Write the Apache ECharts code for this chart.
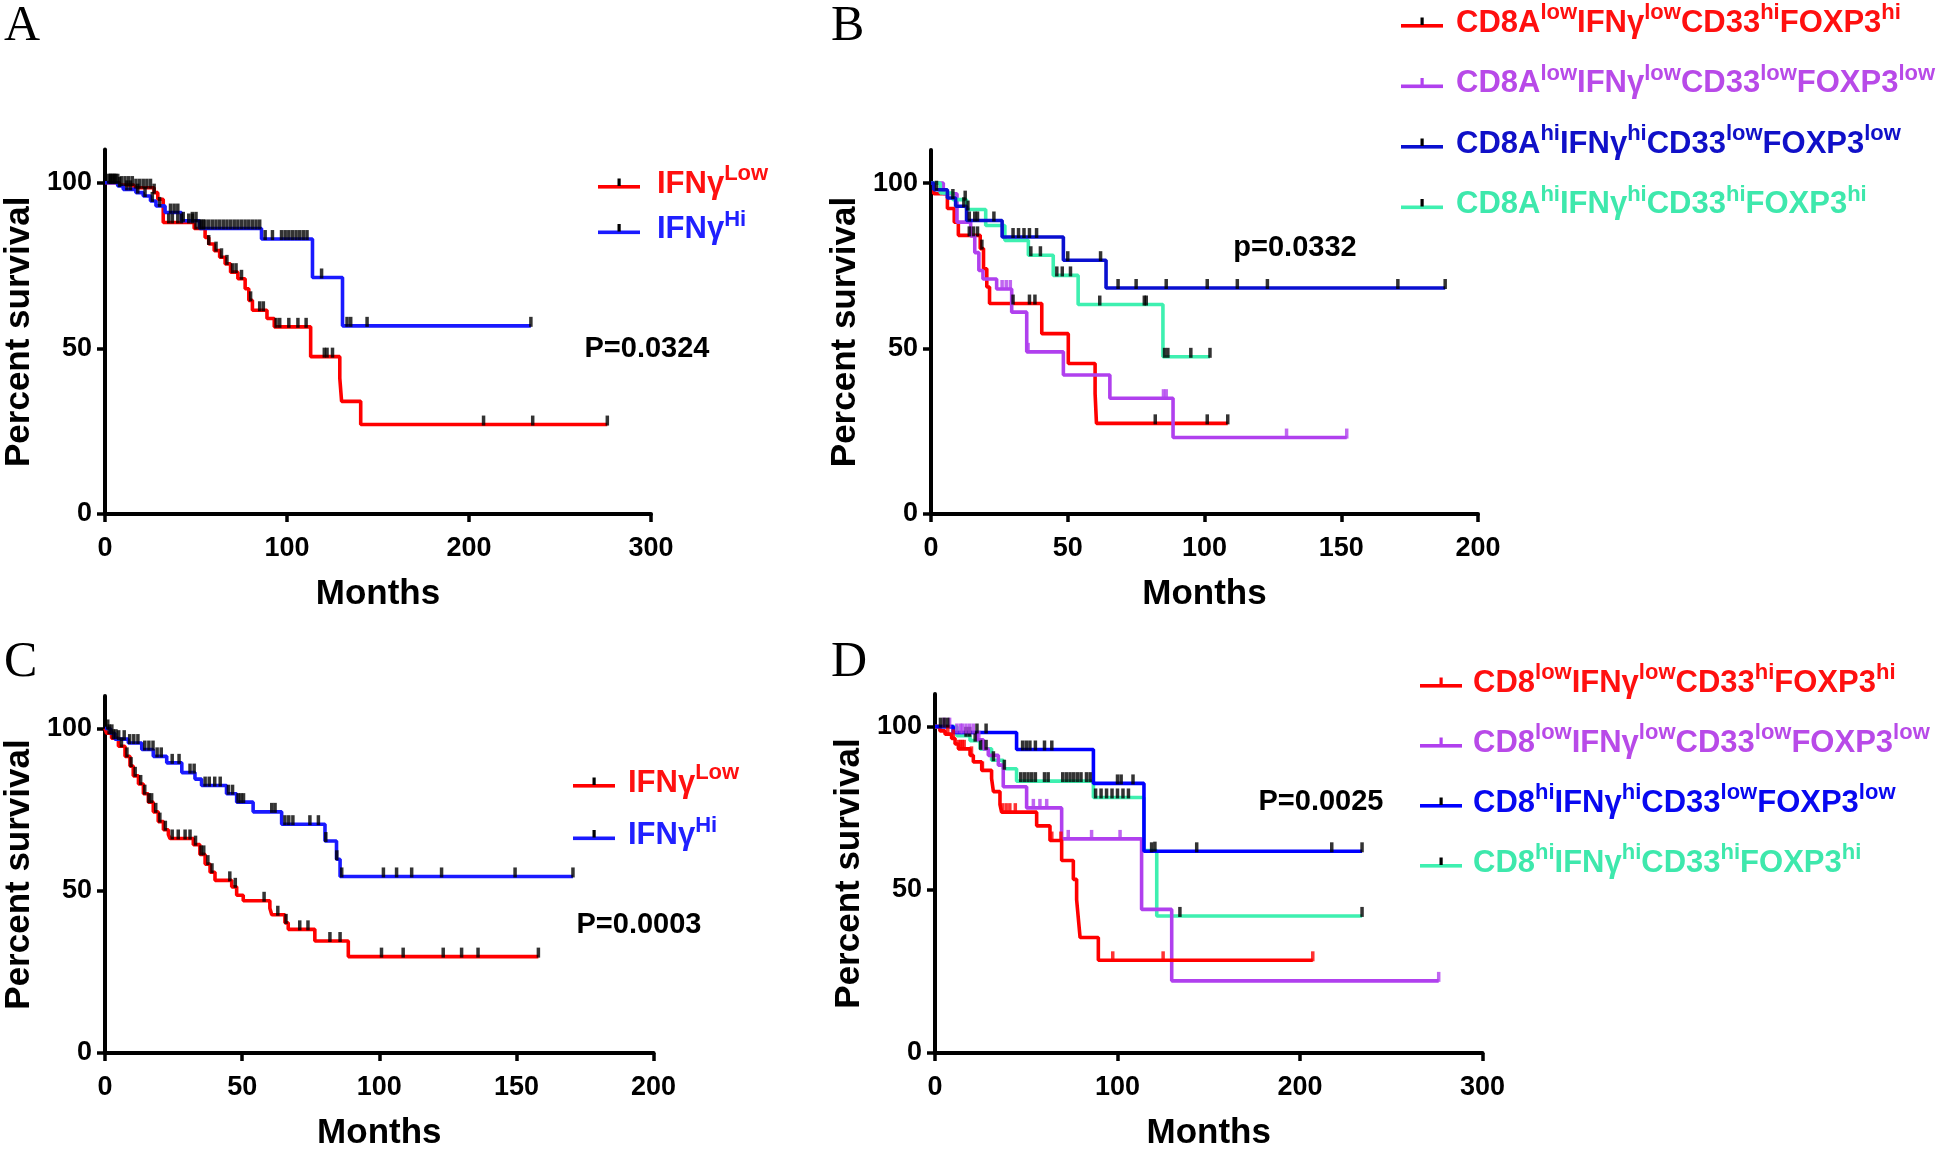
<!DOCTYPE html>
<html><head><meta charset="utf-8">
<script src="https://cdn.jsdelivr.net/npm/echarts@6/dist/echarts.min.js"></script>
<style>html,body{margin:0;padding:0;background:#fff}#c{width:1946px;height:1152px}</style>
</head><body><div id="c"></div>
<script>
// ---------- DATA (months, percent survival) ----------
// Panel A
const aLowT = [0, 8, 16, 27, 29, 32, 49, 55, 57, 60, 63, 66, 69, 73, 77, 79, 81, 89, 93, 113, 129, 130, 140.5];
const aLowS = [100, 99.3, 98.5, 97, 95, 88, 86.2, 83.5, 81.5, 79.5, 77.5, 75.5, 73, 71, 68, 64.5, 61.5, 59, 56.5, 47.5, 41, 34, 27];
const aLowEnd = 276;
const aLowCens = [2, 3, 4, 5, 6, 7, 9, 11, 13, 15, 17, 19, 21, 23, 25, 27, 35, 37, 40, 42, 46, 48, 50, 52, 54, 57, 61, 64, 67, 70, 72, 75, 80, 85, 87, 94, 96, 101, 106, 110.5, 120.5, 122, 125, 208, 235, 276];
const aHiT = [0, 7, 10, 17, 21, 25, 28, 33, 42, 52, 86, 114, 130.5];
const aHiS = [100, 99, 98, 97, 96, 94.5, 93, 91, 88.5, 86.2, 83, 71.4, 56.8];
const aHiEnd = 234;
const aHiCens = [3, 5, 8, 12, 14, 18, 22, 26, 30, 36, 38, 40, 43, 48, 50, 53, 55, 57, 59, 61, 63, 65, 67, 69, 71, 73, 75, 77, 79, 81, 83, 85, 88, 92, 97, 99, 101, 103, 105, 107, 109, 111, 119, 133, 135, 144, 234];

// Panel B
const bRedT = [0, 1, 6, 8.5, 10, 18, 19.2, 20.4, 21.4, 40.5, 50.2, 60, 60.5];
const bRedS = [100, 96.8, 92.3, 88.2, 84.2, 80.2, 74.1, 68.6, 63.6, 54.5, 45.5, 36.4, 27.4];
const bRedEnd = 108.5;
const bRedCens = [14, 15.5, 17, 18.6, 30, 36, 38, 82, 101, 108.5];
const bPurT = [0, 4.5, 9.5, 14.5, 16, 17.5, 19, 24, 29.5, 35, 48.4, 65.4, 88.5];
const bPurS = [100, 96.8, 88.2, 84, 79, 73.6, 71, 68, 61, 49, 42, 35, 23.1];
const bPurEnd = 152;
const bPurCens = [26, 27.5, 29, 35.5, 85, 86, 130, 152];
const bBluT = [0, 1, 6, 9, 13, 26, 48.4, 64];
const bBluS = [100, 98, 95.5, 93, 88.7, 83.7, 76.7, 68.3];
const bBluEnd = 188;
const bBluCens = [2, 8, 12, 14, 16, 17, 23, 30, 32, 34, 36, 38.6, 50, 62, 68.4, 75, 86, 101, 112, 123, 170.7, 188];
const bTeaT = [0, 3.4, 8, 13, 20, 27, 35.6, 44.7, 53.8, 84.8];
const bTeaS = [100, 97, 95, 92, 87.2, 82.7, 78.2, 72.1, 63.3, 47.5];
const bTeaEnd = 102;
const bTeaCens = [12.5, 13.5, 36.5, 40, 46, 48, 51, 61.7, 78, 78.7, 85.4, 86.6, 95, 102];

// Panel C
const cLowT = [0, 0.6, 2.4, 4.9, 7.3, 9.1, 10.3, 12.2, 14, 15.8, 17.6, 19.4, 21.3, 23.1, 23.7, 32.2, 34.6, 36.5, 38.3, 40.1, 46.2, 48, 50.4, 60.1, 60.8, 65.6, 66.8, 76.5, 88.7];
const cLowS = [100, 98.5, 97, 94.5, 91.4, 88.4, 85.4, 82.9, 79.9, 77.3, 74.3, 71.3, 68.8, 67.3, 66.1, 64.2, 61.2, 58.2, 55.7, 53.2, 51.2, 48.6, 46.9, 44.6, 42.6, 40.1, 38.1, 34.5, 29.7];
const cLowEnd = 158;
const cLowCens = [1.5, 3, 4, 6, 8, 9.5, 11, 13, 14.5, 16, 17, 18.5, 20, 22, 24.5, 26.7, 29.2, 31, 33, 35, 36, 37.5, 39, 45.5, 47.5, 58, 63, 66, 71, 74, 82, 85.7, 100.8, 108.7, 123.3, 130, 136, 158];
const cHiT = [0, 2, 3.6, 8.5, 13.4, 17.6, 22.5, 28, 32.8, 35.2, 44.3, 48, 54, 64.4, 80.2, 84.4, 85.7];
const cHiS = [100, 98.5, 96.7, 95.5, 93.5, 91.4, 89.4, 86.4, 84.4, 82.4, 79.9, 77.3, 74.3, 70.5, 65.3, 59.7, 54.4];
const cHiEnd = 170.6;
const cHiCens = [1, 2.5, 5, 7, 9, 10.5, 12, 14.5, 16, 17.5, 19, 20.5, 24.5, 27, 31, 32.5, 36.5, 38, 40, 42, 45, 46.5, 48.5, 49.5, 50.5, 60.8, 62, 65.6, 67, 68.5, 74.7, 77.8, 80.5, 84.5, 86.3, 101.5, 106.3, 111.8, 122.7, 149.5, 170.6];

// Panel D
const dRedT = [0, 2.7, 5.5, 9.1, 11, 12.8, 19.2, 21, 25.6, 31, 32, 35.6, 36.5, 55.7, 63, 69.4, 75.8, 77.6, 78.5, 79.5, 89.5];
const dRedS = [100, 98.7, 97.7, 96.4, 94.7, 93.2, 91.2, 89.2, 86.6, 84.1, 80.1, 76.1, 73.8, 69.6, 65.1, 59, 53.2, 47, 41.5, 35.4, 28.4];
const dRedEnd = 207;
const dRedCens = [7, 10, 13, 14, 15, 16, 20, 26, 37, 39, 41, 44, 64, 69, 97.4, 125, 207];
const dPurT = [0, 10, 23, 26.5, 29.2, 34.7, 37.4, 50.2, 69.4, 113.2, 129.7];
const dPurS = [100, 98.2, 96, 93.2, 91.2, 88.2, 81.6, 75.1, 65.6, 44, 22.1];
const dPurEnd = 276;
const dPurCens = [5, 8, 12, 14, 15, 17, 19, 21, 24, 53.9, 57.5, 61.2, 73, 85.8, 101.4, 276];
const dBluT = [0, 10, 44.7, 86.8, 114.5];
const dBluS = [100, 98.2, 93, 82.6, 61.8];
const dBluEnd = 234;
const dBluCens = [3, 5, 7, 23, 28, 48, 50, 52, 55, 60, 64, 100, 102, 108.5, 118.7, 143.4, 217.4, 234];
const dTeaT = [0, 12, 19.2, 24.7, 31, 37.4, 44.7, 86.8, 114.5, 121.5];
const dTeaS = [100, 97.2, 95.7, 93.2, 89.7, 87.1, 83.3, 78.3, 62, 42];
const dTeaEnd = 234;
const dTeaCens = [17, 19, 22, 25, 28, 32, 38, 47, 49, 51, 53, 55, 60, 62, 70, 72, 74, 76, 78, 80, 83, 85, 88, 91, 94, 97, 100, 103, 106, 120.5, 134.2, 234];

// Axis ticks / labels
const xMaxA = 300, xIntA = 100;
const xMaxB = 200, xIntB = 50;
const xMaxC = 200, xIntC = 50;
const xMaxD = 300, xIntD = 100;
const yMax = 110, yInt = 50;
const pA = 'P=0.0324', pB = 'p=0.0332', pC = 'P=0.0003', pD = 'P=0.0025';
const panelLetters = ['A', 'B', 'C', 'D'];
const xTitle = 'Months', yTitle = 'Percent survival';

// Legend label parts [main, superscript]
const labA = [[['IFNγ', 'Low']], [['IFNγ', 'Hi']]];
const labB = [
  [['CD8A', 'low'], ['IFNγ', 'low'], ['CD33', 'hi'], ['FOXP3', 'hi']],
  [['CD8A', 'low'], ['IFNγ', 'low'], ['CD33', 'low'], ['FOXP3', 'low']],
  [['CD8A', 'hi'], ['IFNγ', 'hi'], ['CD33', 'low'], ['FOXP3', 'low']],
  [['CD8A', 'hi'], ['IFNγ', 'hi'], ['CD33', 'hi'], ['FOXP3', 'hi']]
];
const labD = [
  [['CD8', 'low'], ['IFNγ', 'low'], ['CD33', 'hi'], ['FOXP3', 'hi']],
  [['CD8', 'low'], ['IFNγ', 'low'], ['CD33', 'low'], ['FOXP3', 'low']],
  [['CD8', 'hi'], ['IFNγ', 'hi'], ['CD33', 'low'], ['FOXP3', 'low']],
  [['CD8', 'hi'], ['IFNγ', 'hi'], ['CD33', 'hi'], ['FOXP3', 'hi']]
];

// ---------- STYLE ----------
const FONT = "'Liberation Sans', Arial, sans-serif";
const COL = {
  red: '#ff0000', blue: '#1a1aff', navy: '#0a10d0', blued: '#0000ff',
  purple: '#b040ee', teal: '#3ef0b0', black: '#000000'
};
const TXT = {
  red: '#ff1010', blue: '#2020ff', navy: '#1010c8', blued: '#0808f0',
  purple: '#b84ae8', teal: '#3ee8ac'
};

function survAt(T, S, t) {
  let v = S[0];
  for (let i = 0; i < T.length; i++) if (T[i] <= t) v = S[i];
  return v;
}

const grids = [
  { left: 105, top: 149.6, width: 546, height: 364.4 },
  { left: 931, top: 150, width: 547, height: 364 },
  { left: 105, top: 696, width: 548.6, height: 364.3 },
  { left: 935, top: 694, width: 547.5, height: 365 }
];

const axisLine = { lineStyle: { color: '#000', width: 4 } };
const axisTick = { inside: false, length: 8, lineStyle: { color: '#000', width: 3.5 } };
const labelStyle = { color: '#000', fontFamily: FONT, fontWeight: 'bold', fontSize: 27 };
const nameStyle = { color: '#000', fontFamily: FONT, fontWeight: 'bold', fontSize: 35 };

const xs = [[xMaxA, xIntA], [xMaxB, xIntB], [xMaxC, xIntC], [xMaxD, xIntD]];
const xAxis = xs.map((m, i) => ({
  type: 'value', gridIndex: i, min: 0, max: m[0], interval: m[1],
  axisLine, axisTick, splitLine: { show: false },
  axisLabel: Object.assign({ margin: 21 }, labelStyle),
  name: xTitle, nameLocation: 'middle', nameGap: 63, nameTextStyle: nameStyle
}));
const yAxis = [0, 1, 2, 3].map(i => ({
  type: 'value', gridIndex: i, min: 0, max: yMax, interval: yInt,
  axisLine, axisTick, splitLine: { show: false },
  axisLabel: Object.assign({ margin: 13, showMaxLabel: false }, labelStyle),
  name: yTitle, nameLocation: 'middle', nameGap: 68, nameTextStyle: nameStyle
}));

const series = [];
function addCurve(name, gi, T, S, end, cens, color, censColor) {
  const data = T.map((t, i) => [t, S[i]]);
  data.push([end, S[S.length - 1]]);
  series.push({
    name, type: 'line', step: 'end', xAxisIndex: gi, yAxisIndex: gi,
    data, showSymbol: false, symbol: 'none', silent: true,
    lineStyle: { color, width: 3.6 }, itemStyle: { color }, z: 3
  });
  series.push({
    name: name + '_c', type: 'scatter', xAxisIndex: gi, yAxisIndex: gi,
    data: cens.map(t => [t, survAt(T, S, t)]),
    symbol: 'rect', symbolSize: [3.5, 10], symbolOffset: [0, -4], silent: true,
    itemStyle: { color: censColor }, z: 4
  });
}
addCurve('A1', 0, aLowT, aLowS, aLowEnd, aLowCens, COL.red, COL.black);
addCurve('A2', 0, aHiT, aHiS, aHiEnd, aHiCens, COL.blue, COL.black);
addCurve('B1', 1, bRedT, bRedS, bRedEnd, bRedCens, COL.red, COL.black);
addCurve('B2', 1, bPurT, bPurS, bPurEnd, bPurCens, COL.purple, COL.purple);
addCurve('B4', 1, bTeaT, bTeaS, bTeaEnd, bTeaCens, COL.teal, COL.black);
addCurve('B3', 1, bBluT, bBluS, bBluEnd, bBluCens, COL.navy, COL.black);
addCurve('C1', 2, cLowT, cLowS, cLowEnd, cLowCens, COL.red, COL.black);
addCurve('C2', 2, cHiT, cHiS, cHiEnd, cHiCens, COL.blue, COL.black);
addCurve('D4', 3, dTeaT, dTeaS, dTeaEnd, dTeaCens, COL.teal, COL.black);
addCurve('D2', 3, dPurT, dPurS, dPurEnd, dPurCens, COL.purple, COL.purple);
addCurve('D1', 3, dRedT, dRedS, dRedEnd, dRedCens, COL.red, COL.red);
addCurve('D3', 3, dBluT, dBluS, dBluEnd, dBluCens, COL.blued, COL.black);

// legend rich text
const rich = {};
Object.keys(TXT).forEach(k => {
  rich[k + 'n'] = { color: TXT[k], fontFamily: FONT, fontWeight: 'bold', fontSize: 31, lineHeight: 42, verticalAlign: 'middle' };
  rich[k + 's'] = { color: TXT[k], fontFamily: FONT, fontWeight: 'bold', fontSize: 22, lineHeight: 22, verticalAlign: 'top' };
});
function iconFor(lineColor, tickColor) {
  const svg = "<svg xmlns='http://www.w3.org/2000/svg' width='42' height='14'>" +
    "<rect x='0' y='8' width='42' height='3.6' fill='" + lineColor + "'/>" +
    "<rect x='19.5' y='1.5' width='3.2' height='7.5' fill='" + tickColor + "'/></svg>";
  return 'image://data:image/svg+xml;charset=utf-8,' + encodeURIComponent(svg);
}
const legendMap = {};
function legendItem(name, parts, ckey, lineColor, tickColor) {
  legendMap[name] = parts.map(p => '{' + ckey + 'n|' + p[0] + '}{' + ckey + 's|' + p[1] + '}').join('');
  return { name, icon: iconFor(lineColor, tickColor) };
}
function mkLegend(items, left, top, gap, pad) {
  return {
    orient: 'vertical', left, top, itemGap: gap, itemWidth: 42, itemHeight: 14,
    selectedMode: false, data: items,
    formatter: n => legendMap[n],
    textStyle: { rich, padding: [0, 0, 0, pad] }
  };
}
const legend = [
  mkLegend([legendItem('A1', labA[0], 'red', COL.red, '#000'),
            legendItem('A2', labA[1], 'blue', COL.blue, '#000')], 593, 158, 9, 12),
  mkLegend([legendItem('B1', labB[0], 'red', COL.red, '#000'),
            legendItem('B2', labB[1], 'purple', COL.purple, COL.purple),
            legendItem('B3', labB[2], 'navy', COL.navy, '#000'),
            legendItem('B4', labB[3], 'teal', COL.teal, '#000')], 1396, -3, 24, 8),
  mkLegend([legendItem('C1', labA[0], 'red', COL.red, '#000'),
            legendItem('C2', labA[1], 'blue', COL.blue, '#000')], 568, 757, 16, 8),
  mkLegend([legendItem('D1', labD[0], 'red', COL.red, COL.red),
            legendItem('D2', labD[1], 'purple', COL.purple, COL.purple),
            legendItem('D3', labD[2], 'blued', COL.blued, '#000'),
            legendItem('D4', labD[3], 'teal', COL.teal, '#000')], 1415, 657, 23.5, 6)
];

const letterPos = [[4, 27], [831, 27], [4, 663], [831, 663]];
const pPos = [[647, 349, pA], [1295, 248, pB], [639, 925, pC], [1321, 802, pD]];
const graphic = [];
panelLetters.forEach((L, i) => graphic.push({
  type: 'text', left: letterPos[i][0], top: letterPos[i][1] - 25,
  style: { text: L, font: "50px 'Liberation Serif', 'Times New Roman', serif", fill: '#000' }
}));
pPos.forEach(p => graphic.push({
  type: 'text', x: p[0], y: p[1],
  style: { text: p[2], fontFamily: FONT, fontWeight: 'bold', fontSize: 29, fill: '#000', align: 'center', verticalAlign: 'middle' }
}));

const chart = echarts.init(document.getElementById('c'), null, { renderer: 'canvas' });
chart.setOption({
  animation: false, backgroundColor: '#fff',
  grid: grids, xAxis, yAxis, series, legend, graphic
});
</script></body></html>
